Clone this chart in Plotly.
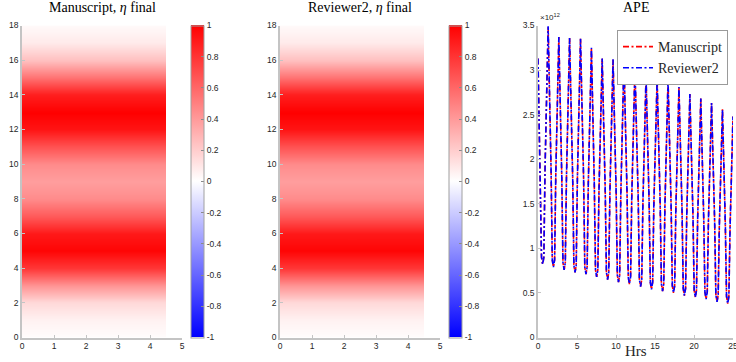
import plotly.graph_objects as go

# ---------------- data ----------------
# eta profile along the vertical coordinate (same for every column)
eta_y = list(range(0, 19))
eta_manuscript = [0.01, 0.05, 0.15, 0.42, 0.78, 0.98, 0.90, 0.65, 0.45, 0.38,
                  0.45, 0.68, 0.92, 1.00, 0.88, 0.55, 0.25, 0.08, 0.02]
eta_reviewer2 = [0.01, 0.05, 0.15, 0.42, 0.78, 0.98, 0.90, 0.65, 0.45, 0.38,
                 0.45, 0.68, 0.92, 1.00, 0.88, 0.55, 0.25, 0.08, 0.02]
eta_x_edges = [0, 2.25, 4.5]

# APE time series (units of 1e12)
hrs = [0.00,
       0.30, 0.45, 0.60, 0.75, 0.90, 1.30,
       1.68, 1.83, 1.98, 2.13, 2.28, 2.67,
       3.05, 3.20, 3.35, 3.50, 3.65, 4.05,
       4.45, 4.60, 4.75, 4.90, 5.05, 5.45,
       5.85, 6.00, 6.15, 6.30, 6.45, 6.85,
       7.22, 7.37, 7.52, 7.67, 7.82, 8.23,
       8.62, 8.77, 8.92, 9.07, 9.22, 9.62,
       10.02, 10.17, 10.32, 10.47, 10.62, 11.02,
       11.42, 11.57, 11.72, 11.87, 12.02, 12.43,
       12.85, 13.00, 13.15, 13.30, 13.45, 13.85,
       14.25, 14.40, 14.55, 14.70, 14.85, 15.27,
       15.67, 15.82, 15.97, 16.12, 16.27, 16.67,
       17.07, 17.22, 17.37, 17.52, 17.67, 18.07,
       18.47, 18.62, 18.77, 18.92, 19.07, 19.47,
       19.87, 20.02, 20.17, 20.32, 20.47, 20.87,
       21.25, 21.40, 21.55, 21.70, 21.85, 22.25,
       22.65, 22.80, 22.95, 23.10, 23.25, 23.65,
       24.02, 24.17, 24.32, 24.47, 24.62, 25.00]
ape_manuscript = [3.13,
                  1.74, 0.90, 0.82, 0.90, 1.88, 3.48,
                  1.87, 0.87, 0.79, 0.87, 1.82, 3.37,
                  1.80, 0.84, 0.76, 0.84, 1.80, 3.36,
                  1.78, 0.81, 0.73, 0.81, 1.78, 3.35,
                  1.77, 0.79, 0.71, 0.79, 1.73, 3.25,
                  1.71, 0.76, 0.68, 0.76, 1.66, 3.13,
                  1.64, 0.73, 0.65, 0.73, 1.64, 3.12,
                  1.62, 0.70, 0.62, 0.70, 1.62, 3.11,
                  1.60, 0.68, 0.60, 0.68, 1.57, 3.03,
                  1.55, 0.65, 0.57, 0.65, 1.51, 2.93,
                  1.50, 0.62, 0.54, 0.62, 1.48, 2.90,
                  1.47, 0.60, 0.52, 0.60, 1.47, 2.89,
                  1.46, 0.58, 0.50, 0.58, 1.42, 2.81,
                  1.41, 0.55, 0.47, 0.55, 1.37, 2.73,
                  1.36, 0.53, 0.45, 0.53, 1.34, 2.68,
                  1.33, 0.51, 0.43, 0.51, 1.31, 2.63,
                  1.29, 0.48, 0.40, 0.48, 1.26, 2.56,
                  1.25, 0.46, 0.38, 0.46, 1.22, 2.48]
ape_reviewer2 = [3.13,
                 1.74, 0.90, 0.82, 0.90, 1.88, 3.49,
                 1.87, 0.87, 0.79, 0.87, 1.82, 3.37,
                 1.80, 0.84, 0.76, 0.84, 1.80, 3.36,
                 1.78, 0.81, 0.73, 0.81, 1.78, 3.35,
                 1.77, 0.79, 0.71, 0.79, 1.73, 3.25,
                 1.71, 0.76, 0.68, 0.76, 1.66, 3.13,
                 1.64, 0.73, 0.65, 0.73, 1.64, 3.12,
                 1.62, 0.70, 0.62, 0.70, 1.62, 3.11,
                 1.60, 0.68, 0.60, 0.68, 1.57, 3.03,
                 1.55, 0.65, 0.57, 0.65, 1.51, 2.93,
                 1.50, 0.62, 0.54, 0.62, 1.48, 2.90,
                 1.47, 0.60, 0.52, 0.60, 1.47, 2.89,
                 1.46, 0.58, 0.50, 0.58, 1.42, 2.81,
                 1.41, 0.55, 0.47, 0.55, 1.37, 2.73,
                 1.36, 0.53, 0.45, 0.53, 1.34, 2.68,
                 1.33, 0.51, 0.43, 0.51, 1.31, 2.63,
                 1.29, 0.48, 0.40, 0.48, 1.26, 2.56,
                 1.25, 0.46, 0.38, 0.46, 1.22, 2.48]

cbar_ticks = [-1, -0.8, -0.6, -0.4, -0.2, 0, 0.2, 0.4, 0.6, 0.8, 1]
cbar_ticktext = ["-1", "-0.8", "-0.6", "-0.4", "-0.2", "0", "0.2", "0.4", "0.6", "0.8", "1"]
titles = ["Manuscript, <i>η</i> final", "Reviewer2, <i>η</i> final", "APE"]

# ---------------- layout helpers ----------------
W, H = 736, 362
def px(x):
    return x / W
def py(y):
    return 1 - y / H

y_dom = [py(337.5), py(25.5)]
serif = "Liberation Serif"
sans = "Liberation Sans"
axis_col = "#c4c4c4"
tick_font = dict(family=sans, size=8.5, color="#262626")

bwr = [[0, "rgb(0,0,255)"], [0.5, "rgb(255,255,255)"], [1, "rgb(255,0,0)"]]

def eta_z(profile):
    return [[v, v] for v in profile]

def cbar(xpix):
    return dict(
        x=px(xpix), xanchor="left", y=py(25.5), yanchor="top",
        len=312 / H, lenmode="fraction", thickness=13, thicknessmode="pixels",
        xpad=0, ypad=0, outlinecolor="#a0a0a0", outlinewidth=1,
        tickvals=cbar_ticks, ticktext=cbar_ticktext, ticks="inside",
        ticklen=3, tickcolor="#8a8a8a", tickfont=tick_font,
    )

fig = go.Figure()
fig.add_trace(go.Heatmap(
    z=eta_z(eta_manuscript), x=eta_x_edges, y=eta_y,
    zmin=-1, zmax=1, colorscale=bwr, zsmooth="best",
    colorbar=cbar(190.5), xaxis="x", yaxis="y", hoverinfo="skip"))
fig.add_trace(go.Heatmap(
    z=eta_z(eta_reviewer2), x=eta_x_edges, y=eta_y,
    zmin=-1, zmax=1, colorscale=bwr, zsmooth="best",
    colorbar=cbar(448.5), xaxis="x2", yaxis="y2", hoverinfo="skip"))

dash = "6px,2.5px,2px,2.5px"
fig.add_trace(go.Scatter(
    x=hrs, y=ape_manuscript, mode="lines", name="Manuscript",
    line=dict(color="rgb(255,0,0)", width=1.6, dash=dash),
    xaxis="x3", yaxis="y3"))
fig.add_trace(go.Scatter(
    x=hrs, y=ape_reviewer2, mode="lines", name="Reviewer2",
    line=dict(color="rgb(0,0,255)", width=1.6, dash=dash),
    xaxis="x3", yaxis="y3"))

def ax(domain, rng, dtick, anchor):
    return dict(domain=domain, range=rng, dtick=dtick, tick0=0,
                showline=True, linecolor=axis_col, linewidth=1.5,
                ticks="inside", ticklen=3, tickcolor=axis_col,
                showgrid=False, zeroline=False, mirror=False,
                ticklabeloverflow="allow",
                tickfont=tick_font, anchor=anchor, fixedrange=True)

fig.update_layout(
    width=W, height=H,
    margin=dict(l=0, r=0, t=0, b=0, autoexpand=False),
    paper_bgcolor="white", plot_bgcolor="white",
    xaxis=ax([px(22), px(182)], [0, 5], 1, "y"),
    yaxis=ax(y_dom, [0, 18], 2, "x"),
    xaxis2=ax([px(280), px(440)], [0, 5], 1, "y2"),
    yaxis2=ax(y_dom, [0, 18], 2, "x2"),
    xaxis3=ax([px(538), px(733)], [0, 25], 5, "y3"),
    yaxis3=ax(y_dom, [0, 3.5], 0.5, "x3"),
    showlegend=True,
    legend=dict(
        x=px(728), y=py(30), xanchor="right", yanchor="top",
        bgcolor="white", bordercolor="#9a9a9a", borderwidth=1,
        font=dict(family=serif, size=14, color="#262626"),
        itemwidth=30, tracegroupgap=0,
    ),
)

annotations = []
centers = [102, 360, 635.5]
for t, c in zip(titles, centers):
    annotations.append(dict(
        text=t, x=px(c), y=py(17), xref="paper", yref="paper",
        xanchor="center", yanchor="bottom", showarrow=False,
        font=dict(family=serif, size=14, color="#000000")))
annotations.append(dict(
    text="Hrs", x=px(635.5), y=py(361), xref="paper", yref="paper",
    xanchor="center", yanchor="bottom", showarrow=False,
    font=dict(family=serif, size=15, color="#262626")))
annotations.append(dict(
    text="×10<sup>12</sup>", x=px(538), y=py(24), xref="paper", yref="paper",
    xanchor="left", yanchor="bottom", showarrow=False,
    font=dict(family=sans, size=8, color="#262626")))
fig.update_layout(annotations=annotations)

fig.write_html(
    "out.html",
    config={"displayModeBar": False},
    post_script="document.body.style.margin='0';document.body.style.overflow='hidden';",
)
